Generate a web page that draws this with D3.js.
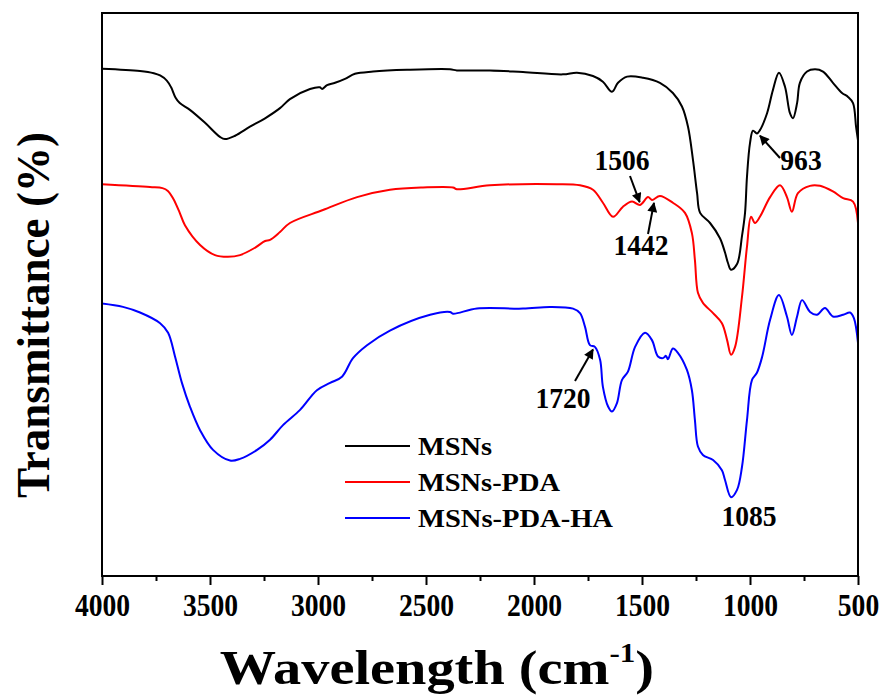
<!DOCTYPE html>
<html>
<head>
<meta charset="utf-8">
<script src="https://cdn.jsdelivr.net/npm/d3@7"></script>
<style>
  html, body { margin: 0; padding: 0; background: #ffffff; }
  svg { display: block; }
  text { font-family: "Liberation Serif", "Times New Roman", serif; font-weight: bold; fill: #000; }
</style>
</head>
<body>
<svg id="chart" width="883" height="699"></svg>
<script>
// FTIR spectra, [wavenumber (cm-1), transmittance (a.u., offset per sample)]
const msns = [
  [4000, 90.1], [3824, 89.7], [3760, 89.3], [3731, 88.9], [3700, 88.0], [3680, 86.8],
  [3660, 85.0], [3640, 84.0], [3593, 82.8],
  [3523, 80.5], [3454, 78.0], [3431, 77.6], [3384, 78.2], [3315, 79.8], [3245, 81.3],
  [3176, 83.1], [3130, 84.7], [3037, 86.5], [2991, 86.8], [2981, 86.5], [2958, 87.2],
  [2921, 87.6], [2875, 88.3], [2829, 89.2], [2745, 89.6], [2588, 89.9], [2389, 90.0],
  [2357, 89.8], [2204, 89.8], [2051, 89.5], [1866, 89.1], [1801, 89.4], [1727, 88.8],
  [1681, 87.8], [1639, 86.0], [1611, 87.6], [1569, 88.7], [1495, 88.5], [1417, 87.6],
  [1357, 85.8], [1315, 83.4], [1287, 79.8], [1264, 73.9], [1245, 68.0], [1231, 64.5],
  [1185, 62.7], [1139, 60.0], [1116, 57.5], [1102, 55.6], [1088, 54.4], [1060, 55.4],
  [1037, 60.4], [1023, 64.5], [1014, 70.9], [1000, 76.9], [986, 79.1], [968, 78.6],
  [954, 79.2], [921, 82.2], [894, 86.3], [866, 89.4], [838, 86.9], [815, 82.2],
  [801, 81.3], [782, 84.0], [769, 87.6], [736, 89.6], [699, 90.0], [662, 89.6],
  [616, 87.6], [574, 85.8], [546, 85.1], [523, 84.0], [509, 79.8], [500, 77.4]
];

const msnsPda = [
  [4000, 69.6], [3778, 69.1], [3720, 68.9], [3695, 68.4], [3670, 67.0], [3640, 64.5],
  [3616, 62.3], [3546, 58.8], [3477, 57.0], [3417, 56.7], [3361, 57.0], [3292, 58.3],
  [3245, 59.5], [3222, 59.7], [3176, 61.1], [3130, 62.7], [2977, 65.0], [2819, 67.3],
  [2667, 68.6], [2514, 69.0], [2375, 69.0], [2357, 68.7], [2204, 69.4], [1894, 69.6],
  [1787, 69.4], [1727, 68.6], [1681, 66.3], [1634, 63.8], [1588, 65.6], [1546, 66.5],
  [1509, 65.9], [1472, 67.3], [1454, 66.8], [1417, 67.5], [1357, 66.3], [1301, 64.5],
  [1269, 60.9], [1255, 56.1], [1241, 50.3], [1218, 48.5], [1171, 46.7], [1130, 44.9],
  [1106, 41.9], [1088, 39.3], [1069, 40.7], [1037, 49.6], [1014, 58.5], [995, 63.8],
  [977, 62.7], [954, 63.8], [907, 67.3], [861, 69.4], [829, 67.3], [806, 64.7],
  [778, 68.0], [722, 69.3], [676, 69.3], [616, 68.3], [569, 67.1], [523, 66.5], [500, 62.7]
];

const msnsPdaHa = [
  [4000, 48.4], [3903, 47.8], [3824, 46.8], [3731, 44.9], [3694, 43.2], [3662, 39.0],
  [3630, 34.3], [3593, 30.1], [3546, 25.9], [3486, 22.4], [3407, 20.5], [3361, 20.8],
  [3282, 22.4], [3222, 24.2], [3162, 26.8], [3083, 29.5], [3005, 33.0], [2944, 34.3],
  [2889, 35.4], [2838, 38.7], [2773, 41.0], [2667, 43.6], [2481, 46.4], [2389, 46.9],
  [2375, 46.6], [2264, 47.5], [2051, 47.5], [1926, 47.8], [1819, 47.5], [1787, 46.7],
  [1764, 44.3], [1741, 41.0], [1718, 40.7], [1694, 38.4], [1681, 33.6], [1657, 30.1],
  [1639, 29.2], [1616, 30.7], [1593, 34.8], [1565, 36.3], [1532, 40.7], [1486, 43.2],
  [1454, 41.9], [1426, 39.0], [1403, 38.7], [1389, 39.1], [1380, 38.5], [1357, 40.4],
  [1333, 39.6], [1292, 36.6], [1269, 33.0], [1255, 27.7], [1241, 23.0], [1218, 21.5],
  [1171, 20.6], [1130, 18.8], [1116, 17.1], [1088, 14.0], [1060, 15.3], [1037, 19.4],
  [1014, 27.7], [991, 34.8], [968, 36.1], [944, 38.9], [907, 45.5], [866, 49.9],
  [829, 46.1], [806, 42.8], [782, 46.1], [759, 49.0], [722, 46.9], [690, 46.4],
  [653, 47.6], [616, 46.1], [569, 46.4], [537, 46.8], [519, 45.8], [500, 41.4]
];

const seriesNames = ["MSNs", "MSNs-PDA", "MSNs-PDA-HA"];
const seriesColors = ["#000000", "#ff0000", "#0000ff"];
const seriesData = [msns, msnsPda, msnsPdaHa];

const xTicks = [4000, 3500, 3000, 2500, 2000, 1500, 1000, 500];
const xMinorTicks = [3750, 3250, 2750, 2250, 1750, 1250, 750];

// marked bands: wavenumber and the spectrum it belongs to
const peakWavenumbers = [1506, 1442, 963, 1720, 1085];
const peakSeries = [1, 1, 0, 2, 2];

const margin = { left: 102, right: 858, top: 13, bottom: 576 };

const svg = d3.select("#chart");

const x = d3.scaleLinear().domain([4000, 500]).range([margin.left, margin.right]);
const y = d3.scaleLinear().domain([0, 100]).range([margin.bottom, margin.top]);

// spectra
const line = d3.line()
  .x(d => x(d[0]))
  .y(d => y(d[1]))
  .curve(d3.curveCatmullRom.alpha(0.5));

svg.append("g")
  .selectAll("path")
  .data(seriesData)
  .join("path")
  .attr("d", d => line(d))
  .attr("fill", "none")
  .attr("stroke", (d, i) => seriesColors[i])
  .attr("stroke-width", 2)
  .attr("stroke-linejoin", "round");

// frame
svg.append("rect")
  .attr("x", margin.left)
  .attr("y", margin.top)
  .attr("width", margin.right - margin.left)
  .attr("height", margin.bottom - margin.top)
  .attr("fill", "none")
  .attr("stroke", "#000")
  .attr("stroke-width", 2);

// bottom axis: major and minor ticks
const xAxis = d3.axisBottom(x).tickValues(xTicks).tickSize(9).tickPadding(6).tickFormat(d3.format("d"));
const gx = svg.append("g").attr("transform", `translate(0,${margin.bottom})`).call(xAxis);
gx.select(".domain").remove();
gx.selectAll(".tick line").attr("stroke", "#000").attr("stroke-width", 2);
gx.selectAll(".tick text")
  .attr("font-size", 31)
  .attr("font-family", "Liberation Serif, Times New Roman, serif")
  .attr("font-weight", "bold")
  .attr("dy", "0.82em")
  .attr("textLength", d => String(d).length * 13.8)
  .attr("lengthAdjust", "spacingAndGlyphs");

const xAxisMinor = d3.axisBottom(x).tickValues(xMinorTicks).tickSize(5).tickFormat("");
const gxm = svg.append("g").attr("transform", `translate(0,${margin.bottom})`).call(xAxisMinor);
gxm.select(".domain").remove();
gxm.selectAll(".tick line").attr("stroke", "#000").attr("stroke-width", 2);

// axis titles (x title widened to the plot's proportions)
const xt = svg.append("text")
  .attr("transform", "translate(437,684) scale(1.15,1)")
  .attr("x", 0)
  .attr("y", 0)
  .attr("text-anchor", "middle")
  .attr("font-size", 49);
xt.append("tspan").text("Wavelength (cm");
xt.append("tspan").attr("font-size", 27).attr("dy", -22).text("-1");
xt.append("tspan").attr("dy", 22).text(")");

svg.append("text")
  .attr("transform", "translate(49,315) rotate(-90)")
  .attr("text-anchor", "middle")
  .attr("font-size", 47)
  .attr("textLength", 366)
  .attr("lengthAdjust", "spacingAndGlyphs")
  .text("Transmittance (%)");

// legend
const legendWidths = [74, 142, 195];
const legend = svg.append("g");
seriesNames.forEach((name, i) => {
  const ly = 446 + i * 36;
  legend.append("line")
    .attr("x1", 345).attr("x2", 410)
    .attr("y1", ly).attr("y2", ly)
    .attr("stroke", seriesColors[i]).attr("stroke-width", 2);
  legend.append("text")
    .attr("x", 418).attr("y", ly + 9)
    .attr("font-size", 25)
    .attr("textLength", legendWidths[i])
    .attr("lengthAdjust", "spacingAndGlyphs")
    .text(name);
});

// arrow marker
svg.append("defs").append("marker")
  .attr("id", "arrow")
  .attr("viewBox", "0 0 10 10")
  .attr("refX", 9).attr("refY", 5)
  .attr("markerWidth", 6).attr("markerHeight", 5)
  .attr("markerUnits", "strokeWidth")
  .attr("orient", "auto")
  .append("path").attr("d", "M0,0 L10,5 L0,10 Z").attr("fill", "#000");

// band labels and arrows
const labelPos = [[622, 170], [641, 255], [801, 170], [563, 408], [749, 526]];
const arrowTail = [[630, 176], [648, 234], [780, 158], [575, 381], null];

peakWavenumbers.forEach((wn, i) => {
  const pts = seriesData[peakSeries[i]];
  const pt = pts.reduce((a, b) => Math.abs(b[0] - wn) < Math.abs(a[0] - wn) ? b : a);
  const px = x(wn), py = y(pt[1]);
  svg.append("text")
    .attr("x", labelPos[i][0]).attr("y", labelPos[i][1])
    .attr("text-anchor", "middle")
    .attr("font-size", 29)
    .attr("textLength", String(wn).length * 13.8)
    .attr("lengthAdjust", "spacingAndGlyphs")
    .text(String(wn));
  if (arrowTail[i]) {
    const dx = px - arrowTail[i][0], dy = py - arrowTail[i][1];
    const len = Math.hypot(dx, dy);
    const k = (len - 3) / len;
    svg.append("line")
      .attr("x1", arrowTail[i][0]).attr("y1", arrowTail[i][1])
      .attr("x2", arrowTail[i][0] + dx * k).attr("y2", arrowTail[i][1] + dy * k)
      .attr("stroke", "#000").attr("stroke-width", 2)
      .attr("marker-end", "url(#arrow)");
  }
});
</script>
</body>
</html>
